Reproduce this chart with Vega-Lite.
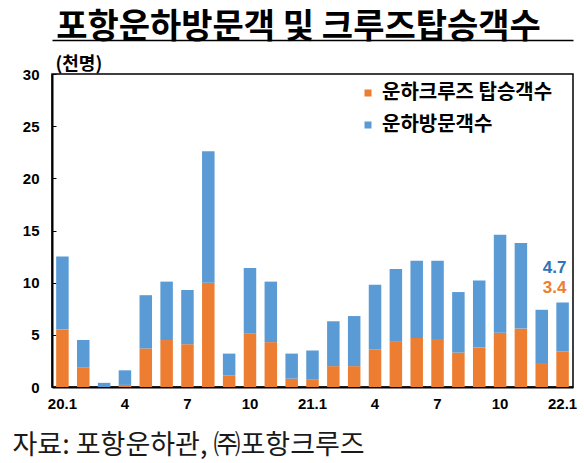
{
  "$schema": "https://vega.github.io/schema/vega-lite/v6.json",
  "autosize": "none",
  "width": 521,
  "height": 313,
  "padding": {"left": 52, "top": 74, "right": 11, "bottom": 76},
  "background": "white",
  "config": {
    "view": {"stroke": "#000", "strokeWidth": 1.5},
    "font": "Noto Sans CJK KR"
  },
  "data": {
    "values": [
      {"month": "20.1", "series": "운하크루즈 탑승객수", "value": 5.5}, {"month": "20.1", "series": "운하방문객수", "value": 7.0},
      {"month": "20.2", "series": "운하크루즈 탑승객수", "value": 1.9}, {"month": "20.2", "series": "운하방문객수", "value": 2.6},
      {"month": "20.3", "series": "운하크루즈 탑승객수", "value": 0.0}, {"month": "20.3", "series": "운하방문객수", "value": 0.4},
      {"month": "20.4", "series": "운하크루즈 탑승객수", "value": 0.2}, {"month": "20.4", "series": "운하방문객수", "value": 1.4},
      {"month": "20.5", "series": "운하크루즈 탑승객수", "value": 3.7}, {"month": "20.5", "series": "운하방문객수", "value": 5.1},
      {"month": "20.6", "series": "운하크루즈 탑승객수", "value": 4.5}, {"month": "20.6", "series": "운하방문객수", "value": 5.6},
      {"month": "20.7", "series": "운하크루즈 탑승객수", "value": 4.1}, {"month": "20.7", "series": "운하방문객수", "value": 5.2},
      {"month": "20.8", "series": "운하크루즈 탑승객수", "value": 10.0}, {"month": "20.8", "series": "운하방문객수", "value": 12.6},
      {"month": "20.9", "series": "운하크루즈 탑승객수", "value": 1.1}, {"month": "20.9", "series": "운하방문객수", "value": 2.1},
      {"month": "20.10", "series": "운하크루즈 탑승객수", "value": 5.1}, {"month": "20.10", "series": "운하방문객수", "value": 6.3},
      {"month": "20.11", "series": "운하크루즈 탑승객수", "value": 4.3}, {"month": "20.11", "series": "운하방문객수", "value": 5.8},
      {"month": "20.12", "series": "운하크루즈 탑승객수", "value": 0.8}, {"month": "20.12", "series": "운하방문객수", "value": 2.4},
      {"month": "21.1", "series": "운하크루즈 탑승객수", "value": 0.7}, {"month": "21.1", "series": "운하방문객수", "value": 2.8},
      {"month": "21.2", "series": "운하크루즈 탑승객수", "value": 2.0}, {"month": "21.2", "series": "운하방문객수", "value": 4.3},
      {"month": "21.3", "series": "운하크루즈 탑승객수", "value": 2.0}, {"month": "21.3", "series": "운하방문객수", "value": 4.8},
      {"month": "21.4", "series": "운하크루즈 탑승객수", "value": 3.6}, {"month": "21.4", "series": "운하방문객수", "value": 6.2},
      {"month": "21.5", "series": "운하크루즈 탑승객수", "value": 4.4}, {"month": "21.5", "series": "운하방문객수", "value": 6.9},
      {"month": "21.6", "series": "운하크루즈 탑승객수", "value": 4.7}, {"month": "21.6", "series": "운하방문객수", "value": 7.4},
      {"month": "21.7", "series": "운하크루즈 탑승객수", "value": 4.6}, {"month": "21.7", "series": "운하방문객수", "value": 7.5},
      {"month": "21.8", "series": "운하크루즈 탑승객수", "value": 3.3}, {"month": "21.8", "series": "운하방문객수", "value": 5.8},
      {"month": "21.9", "series": "운하크루즈 탑승객수", "value": 3.8}, {"month": "21.9", "series": "운하방문객수", "value": 6.4},
      {"month": "21.10", "series": "운하크루즈 탑승객수", "value": 5.2}, {"month": "21.10", "series": "운하방문객수", "value": 9.4},
      {"month": "21.11", "series": "운하크루즈 탑승객수", "value": 5.6}, {"month": "21.11", "series": "운하방문객수", "value": 8.2},
      {"month": "21.12", "series": "운하크루즈 탑승객수", "value": 2.3}, {"month": "21.12", "series": "운하방문객수", "value": 5.1},
      {"month": "22.1", "series": "운하크루즈 탑승객수", "value": 3.4}, {"month": "22.1", "series": "운하방문객수", "value": 4.7}
    ]
  },
  "layer": [
    {
      "mark": {"type": "bar"},
      "encoding": {
        "x": {
          "field": "month", "type": "nominal",
          "scale": {
            "domain": ["20.1","20.2","20.3","20.4","20.5","20.6","20.7","20.8","20.9","20.10","20.11","20.12","21.1","21.2","21.3","21.4","21.5","21.6","21.7","21.8","21.9","21.10","21.11","21.12","22.1"],
            "paddingInner": 0.4, "paddingOuter": 0.2
          },
          "axis": {
            "orient": "bottom", "ticks": false, "domain": true, "domainColor": "#000", "domainWidth": 2,
            "labelAngle": 0, "labelOverlap": false, "labelFont": "Liberation Sans", "labelFontWeight": "bold",
            "labelFontSize": 15, "labelColor": "#000", "labelPadding": 9,
            "labelExpr": "split(datum.value,'.')[1] == '1' ? datum.value : (indexof(['4','7','10'], split(datum.value,'.')[1]) >= 0 ? split(datum.value,'.')[1] : '')",
            "title": "자료: 포항운하관, ㈜포항크루즈", "titleFont": "Noto Sans CJK KR", "titleFontWeight": "normal",
            "titleFontSize": 27, "titleColor": "#1a1a1a", "titleX": -40, "titleY": 66, "titleAlign": "left", "titleBaseline": "alphabetic"
          }
        },
        "y": {
          "field": "value", "type": "quantitative", "stack": "zero",
          "scale": {"domain": [0, 30], "nice": false},
          "axis": {
            "values": [0, 5, 10, 15, 20, 25, 30], "grid": false, "ticks": true, "tickSize": -4, "tickColor": "#000",
            "domainColor": "#000", "domainWidth": 2,
            "labelFont": "Liberation Sans", "labelFontWeight": "bold", "labelFontSize": 15, "labelColor": "#000", "labelPadding": 17,
            "title": "(천명)", "titleAngle": 0, "titleX": 3, "titleY": -10, "titleAlign": "left", "titleBaseline": "middle",
            "titleFontSize": 18, "titleFontWeight": "bold", "titleFont": "Noto Sans CJK KR", "titleColor": "#000"
          }
        },
        "color": {
          "field": "series", "type": "nominal",
          "scale": {"domain": ["운하크루즈 탑승객수", "운하방문객수"], "range": ["#ED7D31", "#5B9BD5"]},
          "legend": {
            "orient": "none", "legendX": 306, "legendY": 9, "title": null, "symbolType": "square", "symbolSize": 49,
            "labelFont": "Noto Sans CJK KR", "labelFontSize": 20, "labelFontWeight": "bold", "labelColor": "#000",
            "labelOffset": 4, "labelLimit": 400, "rowPadding": 12, "padding": 0, "symbolStrokeWidth": 0
          }
        },
        "order": {"field": "series", "sort": "descending"}
      }
    },
    {
      "transform": [
        {"filter": "datum.month == '22.1'"},
        {"joinaggregate": [{"op": "sum", "field": "value", "as": "total"}]},
        {"filter": "datum.series == '운하방문객수'"}
      ],
      "mark": {"type": "text", "font": "Liberation Sans", "fontWeight": "bold", "fontSize": 17, "color": "#2F74B5", "dx": -8, "dy": -34, "baseline": "middle", "align": "center"},
      "encoding": {
        "x": {
          "field": "month", "type": "nominal",
          "axis": {
            "orient": "top", "offset": 34, "labels": false, "ticks": false, "domain": true, "domainColor": "#000", "domainWidth": 1.5,
            "domainOpacity": 1, "zindex": 1,
            "title": "포항운하방문객 및 크루즈탑승객수", "titleFont": "Noto Sans CJK KR", "titleFontSize": 34, "titleFontWeight": "bold",
            "titleColor": "#000", "titleX": 246, "titleY": -3, "titleAlign": "center", "titleBaseline": "alphabetic"
          }
        },
        "y": {"field": "total", "type": "quantitative", "title": "(천명)"},
        "text": {"field": "value", "type": "quantitative", "format": ".1f"}
      }
    },
    {
      "transform": [
        {"filter": "datum.month == '22.1'"},
        {"joinaggregate": [{"op": "sum", "field": "value", "as": "total"}]},
        {"filter": "datum.series == '운하크루즈 탑승객수'"}
      ],
      "mark": {"type": "text", "font": "Liberation Sans", "fontWeight": "bold", "fontSize": 17, "color": "#ED7D31", "dx": -8, "dy": -14, "baseline": "middle", "align": "center"},
      "encoding": {
        "x": {"field": "month", "type": "nominal", "axis": null},
        "y": {"field": "total", "type": "quantitative", "title": "(천명)"},
        "text": {"field": "value", "type": "quantitative", "format": ".1f"}
      }
    }
  ],
  "resolve": {"axis": {"x": "independent"}}
}
